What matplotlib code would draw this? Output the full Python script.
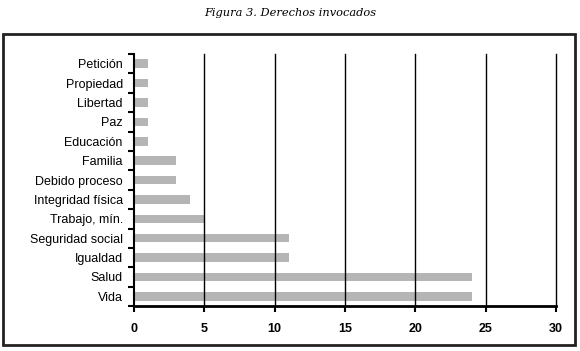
import matplotlib.pyplot as plt
import numpy as np
from matplotlib.patches import Rectangle

# derechos invocados (from bottom to top)
derechos = ['Vida', 'Salud', 'Igualdad', 'Seguridad social', 'Trabajo, mín.',
            'Integridad física', 'Debido proceso', 'Familia', 'Educación',
            'Paz', 'Libertad', 'Propiedad', 'Petición']
casos = [24, 24, 11, 11, 5, 4, 3, 3, 1, 1, 1, 1, 1]
x_ticks = [0, 5, 10, 15, 20, 25, 30]

fig = plt.figure(figsize=(5.8, 3.51), dpi=100)
ax = fig.add_axes([0.231, 0.128, 0.728, 0.718])

y = np.arange(len(derechos))
ax.barh(y, casos, height=0.44, color='#b5b5b5', zorder=1)

# vertical grid lines on top of the bars
for t in x_ticks[1:]:
    ax.axvline(t, color='black', lw=1, zorder=2, clip_on=False)

ax.set_xlim(0, 30)
ax.set_ylim(-0.5, len(derechos) - 0.5)
ax.set_xticks(x_ticks)
ax.set_xticklabels([str(t) for t in x_ticks], fontweight='bold', fontsize=9,
                   family='Liberation Sans')
ax.set_yticks(y)
ax.set_yticklabels(derechos, fontsize=9, family='Liberation Sans')
ax.tick_params(axis='y', length=0, pad=8)
ax.set_yticks(np.arange(-0.5, len(derechos)), minor=True)
ax.tick_params(axis='y', which='minor', length=4, width=1.5, direction='out')
ax.tick_params(axis='x', length=4, width=1.5, direction='out', pad=8)

for side in ['top', 'right']:
    ax.spines[side].set_visible(False)
ax.spines['left'].set_linewidth(1.5)
ax.spines['bottom'].set_linewidth(2)

# outer frame
fig.patches.append(Rectangle((0.006, 0.016), 0.985, 0.888, transform=fig.transFigure,
                             fill=False, edgecolor='#222222', lw=2))

fig.text(0.5, 0.962, 'Figura 3. Derechos invocados', ha='center', va='center',
         fontsize=8.2, style='italic', family='DejaVu Serif')

fig.savefig('out.png', dpi=100)
